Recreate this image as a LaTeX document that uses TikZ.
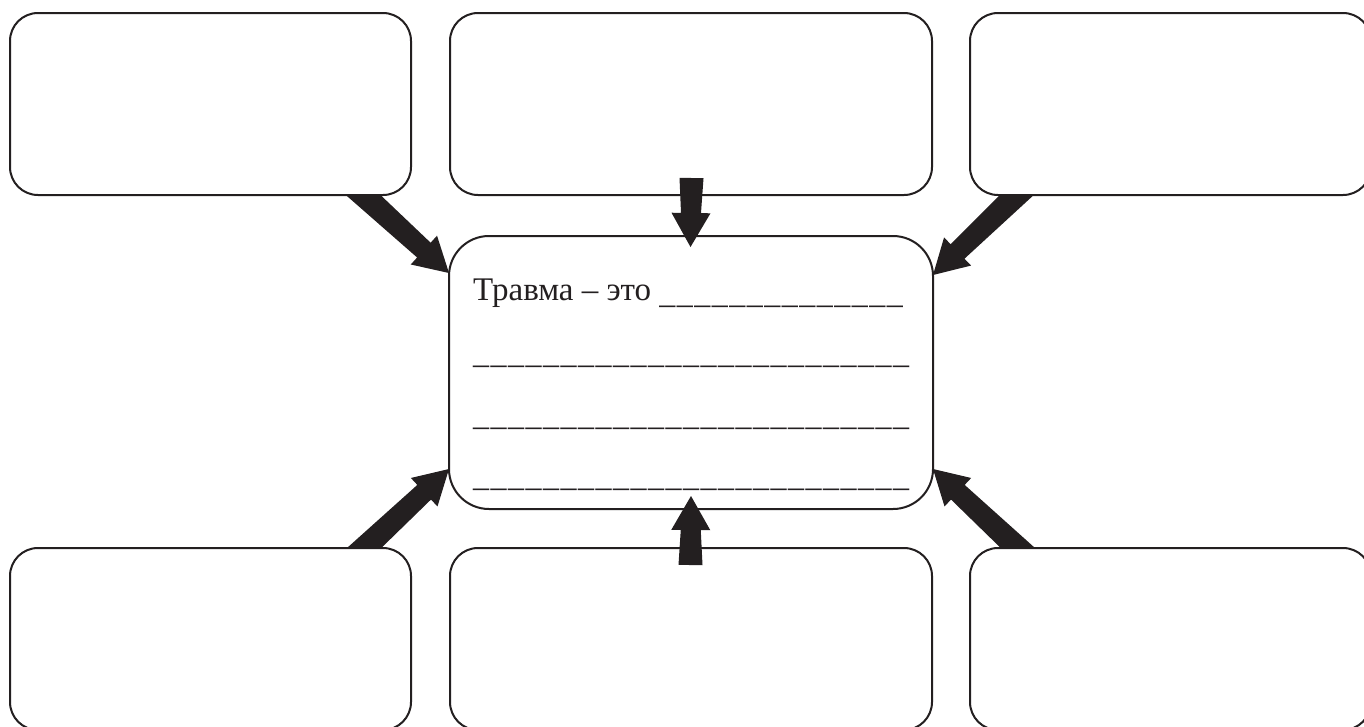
\documentclass[tikz,border=0pt]{standalone}
\usepackage{fontspec}
\setmainfont{Liberation Serif}
\usetikzlibrary{calc}
\definecolor{ink}{HTML}{231F20}
\tikzset{
  box/.style={draw=ink, line width=2pt, rounded corners=28pt, fill=white,
    anchor=north west, inner sep=0pt, outer sep=0pt},
  centerbox/.style={box, rounded corners=40pt},
  arrowfill/.style={fill=ink},
  lineText/.style={anchor=base west, inner sep=0pt, text=ink,
    font=\fontsize{33}{40}\selectfont}
}
\newcommand\fatarrow[3]{% #1 start, #2 tip, #3 extra length behind start
  \coordinate (fa-t) at ($(#1)!-#3!(#2)$);
  \coordinate (fa-b) at ($(#2)!34pt!(#1)$);
  \fill[arrowfill] ($(fa-t)!12pt!90:(#2)$) -- ($(fa-b)!10pt!90:(#2)$)
    -- ($(fa-b)!19.5pt!90:(#2)$) -- (#2) -- ($(fa-b)!19.5pt!-90:(#2)$)
    -- ($(fa-b)!10pt!-90:(#2)$) -- ($(fa-t)!12pt!-90:(#2)$) -- cycle;
}
\newcommand\blanks[1]{{\fontsize{32}{40}\selectfont\count255=#1\relax
  \loop\ifnum\count255>0 \raisebox{-3pt}{\_}\ifnum\count255>1 \kern1.5pt\fi
  \advance\count255 by -1\repeat}}
\begin{document}
\begin{tikzpicture}[x=1pt,y=-1pt]
  \useasboundingbox (0,0) rectangle (1364,726);
  \clip (0,0) rectangle (1364,726);
  % arrow end points
  \coordinate (a1s) at (363.5,195);  \coordinate (a1e) at (449,273);
  \coordinate (a3s) at (1016.5,195); \coordinate (a3e) at (933,275);
  \coordinate (a4s) at (364.5,548);  \coordinate (a4e) at (449,469);
  \coordinate (a6s) at (1017.5,548); \coordinate (a6e) at (933,469);
  \coordinate (a2s) at (691.5,178);  \coordinate (a2e) at (690.5,247);
  \coordinate (a5s) at (690.5,565);  \coordinate (a5e) at (691,496);
  % diagonal arrows (tails hidden under boxes)
  \fatarrow{a1s}{a1e}{15pt}
  \fatarrow{a3s}{a3e}{15pt}
  \fatarrow{a4s}{a4e}{15pt}
  \fatarrow{a6s}{a6e}{15pt}
  % boxes
  \node[box, minimum width=401pt, minimum height=182pt] (tl) at (10,13) {};
  \node[box, minimum width=482pt, minimum height=182pt] (tm) at (450,13) {};
  \node[box, minimum width=401pt, minimum height=182pt] (tr) at (970,13) {};
  \node[box, minimum width=401pt, minimum height=182pt] (bl) at (10,548) {};
  \node[box, minimum width=482pt, minimum height=182pt] (bm) at (450,548) {};
  \node[box, minimum width=401pt, minimum height=182pt] (br) at (970,548) {};
  \node[centerbox, minimum width=484pt, minimum height=273pt] (c) at (449,236) {};
  % vertical arrows on top
  \fatarrow{a2s}{a2e}{0pt}
  \fatarrow{a5s}{a5e}{0pt}
  % text
  \node[lineText] (t1) at (473,300) {Травма – это \blanks{14}};
  \node[lineText] (t2) at (473,360) {\blanks{25}};
  \node[lineText] (t3) at (473,422) {\blanks{25}};
  \node[lineText] (t4) at (473,483) {\blanks{25}};
\end{tikzpicture}
\end{document}
